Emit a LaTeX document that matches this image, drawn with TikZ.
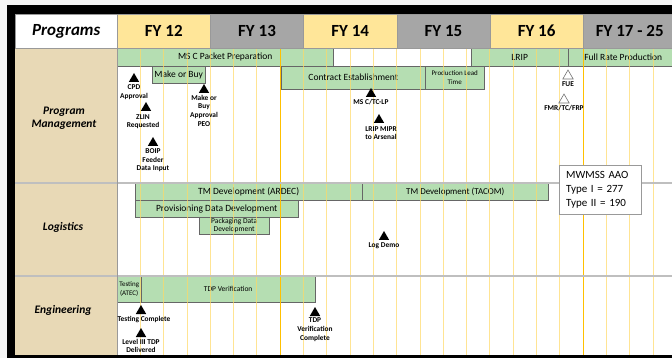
\documentclass[tikz,border=0pt]{standalone}
\usepackage{fontspec}
\setmainfont{Carlito}
\usetikzlibrary{positioning,shapes.geometric}

\definecolor{fyyellow}{HTML}{FFE699}
\definecolor{fygray}{HTML}{A6A6A6}
\definecolor{bargreen}{HTML}{B5DEB2}
\definecolor{parch}{HTML}{E8D9B6}
\definecolor{qline}{HTML}{FFD966}
\definecolor{qdark}{HTML}{FFC000}

\tikzset{
  fycell/.style={draw=black!40, minimum height=34pt, minimum width=93.2pt, anchor=north west,
    inner sep=0pt, font=\fontsize{17}{19}\selectfont\bfseries},
  bar/.style={draw=black!60, fill=bargreen, anchor=north west, inner sep=0pt, align=center,
    font=\fontsize{9.5}{11}\selectfont},
  ms/.style={regular polygon, regular polygon sides=3, fill=black, minimum size=12pt, inner sep=0pt},
  msopen/.style={ms, fill=white, draw=black!55, line width=0.6pt},
  mslab/.style={align=center, inner sep=0pt, font=\fontsize{7.4}{8.8}\selectfont\bfseries},
  rowlab/.style={align=center, font=\fontsize{11.5}{13}\selectfont\bfseries\itshape},
  rowsep/.style={draw=black!25, line width=1.2pt}
}

\begin{document}
\begin{tikzpicture}[x=1pt, y=-1pt]
\useasboundingbox (0,0) rectangle (672,358);

% frame and columns
\fill[black!4] (0,0) rectangle (672,358);
\fill[black] (7,5) rectangle (672,358);
\fill[parch] (15,48) rectangle (117,355);
\fill[white] (117,48) rectangle (672,355);

% header
\node[fycell, fill=white, minimum width=102pt, font=\fontsize{17}{19}\selectfont\bfseries\itshape] (prog) at (15,14) {Programs};
\node[fycell, fill=fyyellow] (fy12) at (117,14) {FY 12};
\node[fycell, fill=fygray] (fy13) at (210.2,14) {FY 13};
\node[fycell, fill=fyyellow] (fy14) at (303.4,14) {FY 14};
\node[fycell, fill=fygray] (fy15) at (396.6,14) {FY 15};
\node[fycell, fill=fyyellow] (fy16) at (489.8,14) {FY 16};
\node[fycell, fill=fygray] (fy17) at (583,14) {FY 17 - 25};

% program management bars
\node[bar, minimum width=216pt, minimum height=18pt] (mscpp) at (117,48) {MS C Packet Preparation};
\node[bar, minimum width=97pt, minimum height=18pt] (lrip) at (471,48) {LRIP};
\node[bar, minimum width=110pt, minimum height=18pt] (frp) at (568,48) {Full Rate Production};
\node[bar, minimum width=53pt, minimum height=17pt] (mob) at (152,66) {Make or Buy};
\node[bar, minimum width=144pt, minimum height=23pt] (contract) at (281,66) {Contract Establishment};
\node[bar, minimum width=59pt, minimum height=23pt, font=\fontsize{7}{8.5}\selectfont] (plt) at (425,66) {Production Lead\\Time};

% logistics bars
\node[bar, minimum width=227pt, minimum height=17pt] (tmard) at (135,183) {TM Development (ARDEC)};
\node[bar, minimum width=186pt, minimum height=17pt, font=\fontsize{9}{11}\selectfont] (tmtac) at (362,183) {TM Development (TACOM)};
\node[bar, minimum width=163pt, minimum height=17pt] (prov) at (135,200) {Provisioning Data Development};
\node[bar, minimum width=70pt, minimum height=17pt, font=\fontsize{7.5}{8.5}\selectfont] (pack) at (199,217) {Packaging Data\\Development};

% engineering bars
\node[bar, minimum width=24pt, minimum height=26pt, font=\fontsize{7}{8.5}\selectfont] (atec) at (117,276) {Testing\\(ATEC)};
\node[bar, minimum width=174pt, minimum height=26pt, font=\fontsize{7.5}{9}\selectfont] (tdpv) at (141,276) {TDP Verification};

% quarter lines
\foreach \k in {1,...,23}
  \draw[qline, opacity=0.7, line width=0.8pt] ({117+23.3*\k},48) -- ({117+23.3*\k},355);
\foreach \k in {7,20}
  \draw[qdark, line width=0.9pt] ({117+23.3*\k},48) -- ({117+23.3*\k},355);

% row separators
\draw[rowsep] (15,183) -- (672,183);
\draw[rowsep] (15,276) -- (672,276);
\draw[draw=black!40, line width=0.8pt] (117,48) -- (117,355);
\draw[draw=black!40, line width=0.8pt] (15,48) -- (672,48);

% row labels
\node[rowlab] (pm) at (64,118) {Program\\Management};
\node[rowlab] (log) at (63,227) {Logistics};
\node[rowlab] (eng) at (63,310) {Engineering};

% milestones
\node[ms] (cpd) at (134,79) {};
\node[mslab, below=2pt of cpd] (cpdl) {CPD\\Approval};
\node[ms] (zlin) at (146,108) {};
\node[mslab, below=3pt of zlin, xshift=-3pt] (zlinl) {ZLIN\\Requested};
\node[ms] (boip) at (153,143) {};
\node[mslab, below=2pt of boip] (boipl) {BOIP\\Feeder\\Data Input};
\node[ms] (mobm) at (204,90) {};
\node[mslab, below=1.5pt of mobm] (mobl) {Make or\\Buy\\Approval\\PEO};
\node[ms] (msctc) at (371,94) {};
\node[mslab, below=1.5pt of msctc] (msctcl) {MS C/TC-LP};
\node[ms] (mipr) at (379,120) {};
\node[mslab, below=3pt of mipr, xshift=2pt] (miprl) {LRIP MIPR\\to Arsenal};
\node[msopen] (fue) at (568,76) {};
\node[mslab, below=2pt of fue] (fuel) {FUE};
\node[msopen] (fmr) at (564,100) {};
\node[mslab, below=2pt of fmr] (fmrl) {FMR/TC/FRP};
\node[ms] (logd) at (384,237) {};
\node[mslab, below=2pt of logd] (logdl) {Log Demo};
\node[ms] (testc) at (141,311) {};
\node[mslab, below=1.5pt of testc, xshift=3pt] (testcl) {Testing Complete};
\node[ms] (lvl) at (141,334) {};
\node[mslab, below=1.5pt of lvl] (lvll) {Level III TDP\\Delivered};
\node[ms] (tdpc) at (315,313) {};
\node[mslab, below=1.5pt of tdpc] (tdpcl) {TDP\\Verification\\Complete};

% AAO box
\node[draw=black!40, fill=white, anchor=north west, text width=68pt, inner xsep=7pt,
  minimum height=49pt, align=left, font=\fontsize{11}{14}\selectfont] (aao) at (559,165)
  {MWMSS AAO\\Type I = 277\\Type II = 190};
\end{tikzpicture}
\end{document}
